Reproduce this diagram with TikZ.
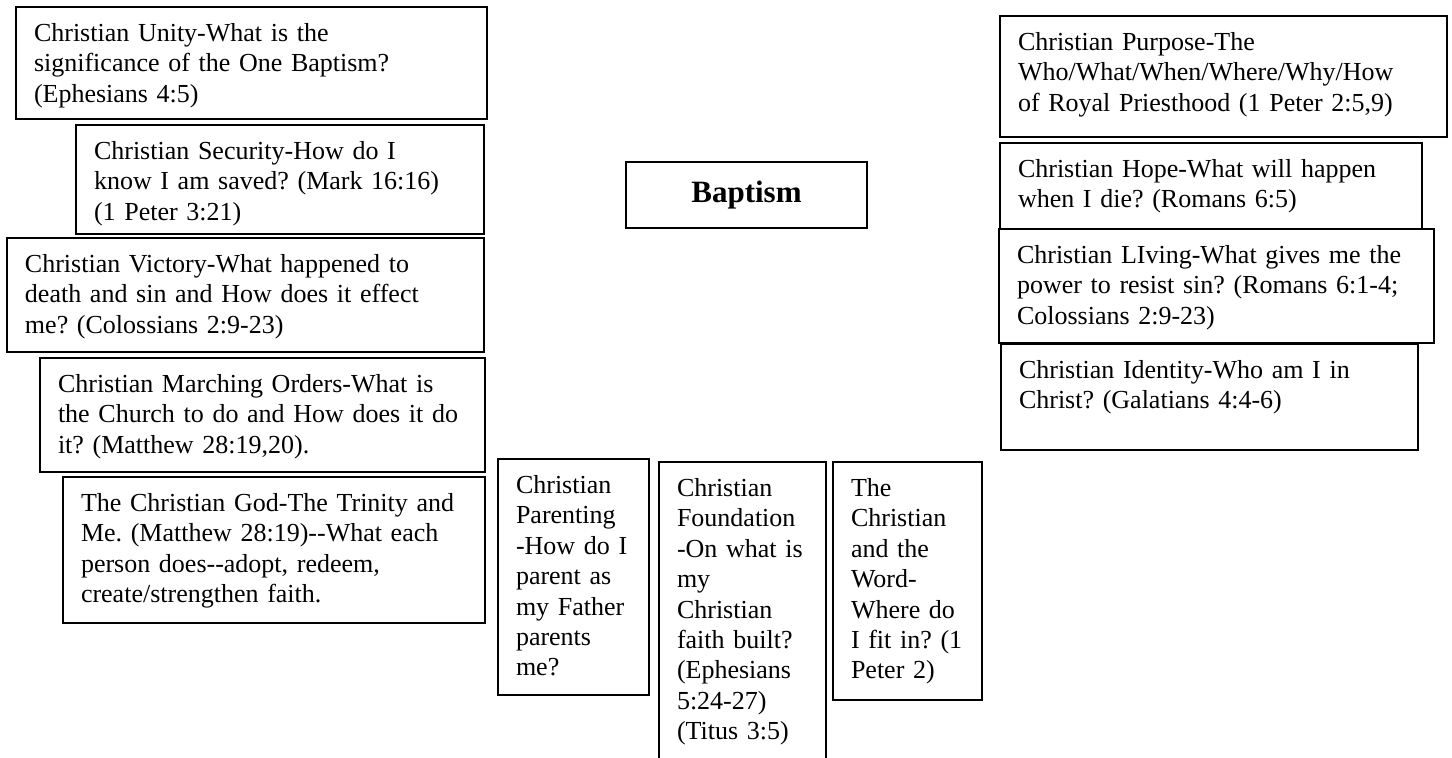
\documentclass[tikz,border=0pt]{standalone}
\usepackage{fontspec}
\setmainfont{Liberation Serif}[Ligatures=TeXOff]
\usepackage{tikz}
\frenchspacing

\begin{document}
\begin{tikzpicture}[x=0.5pt,y=-0.5pt,
  topic/.style={draw,line width=1pt,anchor=north west,align=left,
    inner xsep=9pt,inner ysep=0pt,text height=17.25pt,
    font=\fontsize{13pt}{15.2pt}\selectfont}]
\useasboundingbox (0,0) rectangle (1452,758);
\clip (0,0) rectangle (1452,758);

% left column
\node[topic,text width=217.5pt,text depth=38.75pt] (unity) at (15,6)
  {Christian Unity-What is the\\significance of the One Baptism?\\(Ephesians 4:5)};
\node[topic,text width=186pt,text depth=37.25pt] (security) at (75,124)
  {Christian Security-How do I\\know I am saved? (Mark 16:16)\\(1 Peter 3:21)};
\node[topic,text width=220.5pt,text depth=39.75pt] (victory) at (6,237)
  {Christian Victory-What happened to\\death and sin and How does it effect\\me? (Colossians 2:9-23)};
\node[topic,text width=204.5pt,text depth=39.75pt] (marching) at (39,357)
  {Christian Marching Orders-What is\\the Church to do and How does it do\\it? (Matthew 28:19,20).};
\node[topic,text width=193pt,text depth=55.75pt] (god) at (62,476)
  {The Christian God-The Trinity and\\Me. (Matthew 28:19)--What each\\person does--adopt, redeem,\\create/strengthen faith.};

% centre
\node[draw,line width=1pt,minimum width=120.5pt,minimum height=33pt,
  font=\fontsize{15.5pt}{18pt}\selectfont\bfseries] (baptism) at (746.5,195) {Baptism};

% bottom row
\node[topic,text width=57.5pt,text depth=100.75pt] (parenting) at (497,458)
  {Christian\\Parenting\\-How do I\\parent as\\my Father\\parents\\me?};
\node[topic,text width=65.5pt,text depth=150pt] (foundation) at (658,461)
  {Christian\\Foundation\\-On what is\\my\\Christian\\faith built?\\(Ephesians\\5:24-27)\\(Titus 3:5)};
\node[topic,text width=56.5pt,text depth=101.75pt] (word) at (832,461)
  {The\\Christian\\and the\\Word-\\Where do\\I fit in? (1\\Peter 2)};

% right column
\node[topic,text width=205.5pt,text depth=43.25pt] (purpose) at (999,15)
  {Christian Purpose-The\\Who/What/When/Where/Why/How\\of Royal Priesthood (1 Peter 2:5,9)};
\node[topic,text width=193pt,text depth=26.25pt] (hope) at (999,142)
  {Christian Hope-What will happen\\when I die? (Romans 6:5)};
\node[topic,fill=white,text width=199.5pt,text depth=39.75pt] (living) at (998,228)
  {Christian LIving-What gives me the\\power to resist sin? (Romans 6:1-4;\\Colossians 2:9-23)};
\node[topic,text width=190.5pt,text depth=35.75pt] (identity) at (1000,343)
  {Christian Identity-Who am I in\\Christ? (Galatians 4:4-6)};
\end{tikzpicture}
\end{document}
